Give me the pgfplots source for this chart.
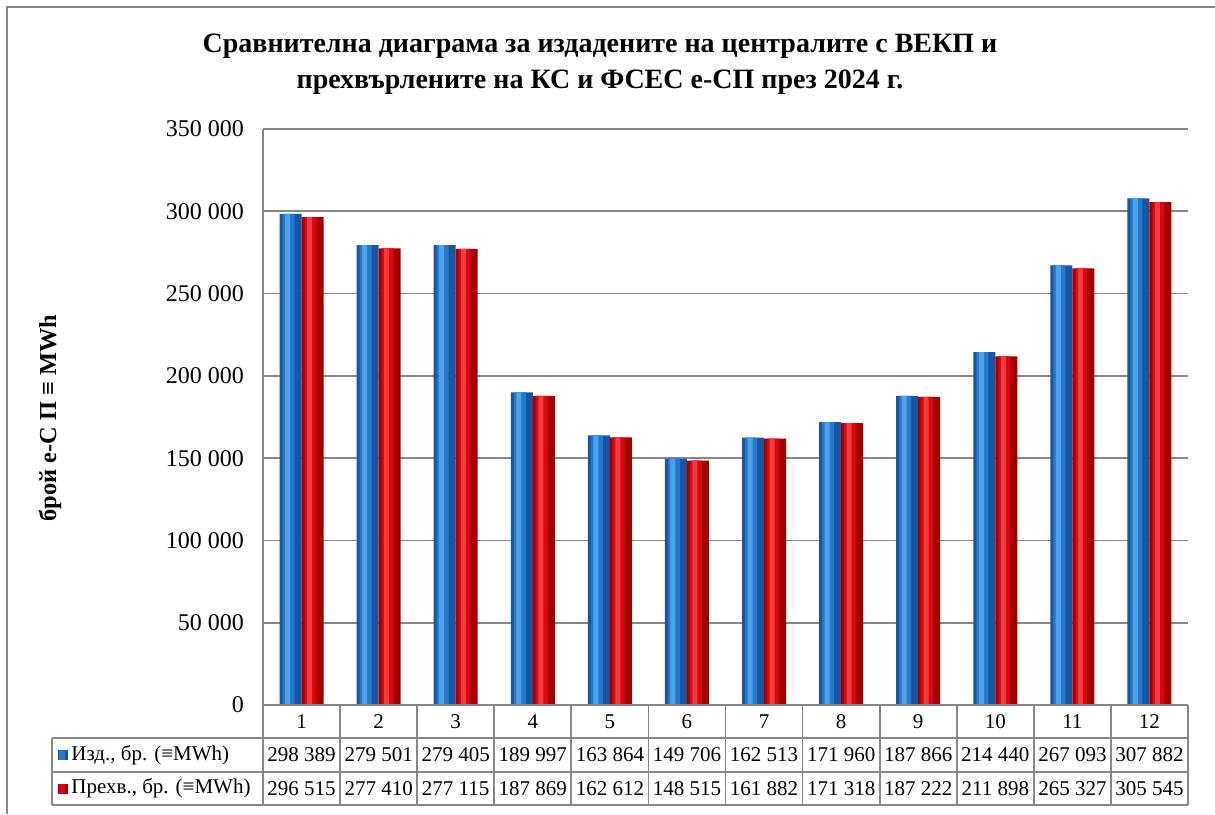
\documentclass[border=0pt]{standalone}
\usepackage{fontspec}
\setmainfont{Liberation Serif}
\usepackage{pgfplots}
\usepackage{pgfplotstable}
\pgfplotsset{compat=1.18}
\definecolor{bdark}{RGB}{25,85,165}
\definecolor{bmid}{RGB}{35,122,205}
\definecolor{blight}{RGB}{80,162,232}
\definecolor{rdark}{RGB}{165,0,0}
\definecolor{rmid}{RGB}{215,8,14}
\definecolor{rlight}{RGB}{240,60,60}
\definecolor{tgray}{RGB}{135,135,135}
\pgfplotstableread{
m izd prehv
1 298389 296515
2 279501 277410
3 279405 277115
4 189997 187869
5 163864 162612
6 149706 148515
7 162513 161882
8 171960 171318
9 187866 187222
10 214440 211898
11 267093 265327
12 307882 305545
}\data
\pgfkeys{/pgf/number format/.cd, fixed, precision=0, 1000 sep={\ }, assume math mode=true}
\begin{document}
\begin{tikzpicture}
\begin{scope}[x=0.5pt,y=-0.5pt]
\path[use as bounding box] (0,0) rectangle (1215,814);
\draw[tgray, line width=1.4pt] (7,814) -- (7,7) -- (1215,7);
\node[font=\bfseries\fontsize{14}{18}\selectfont, align=center] at (600,64) {Сравнителна диаграма за издадените на централите с ВЕКП и\\прехвърлените на КС и ФСЕС е-СП през 2024 г.};
\node[rotate=90, font=\bfseries\fontsize{12.2}{13}\selectfont] at (50,418) {брой е-С П ≡ MWh};
\end{scope}
\begin{axis}[at={(131.5pt,-352.5pt)}, anchor=south west, scale only axis,
  width=462.5pt, height=288pt,
  xmin=0.5, xmax=12.5, ymin=0, ymax=350000, enlargelimits=false,
  ytick={0,50000,...,350000}, xtick=\empty,
  ymajorgrids, grid style={tgray, line width=0.8pt},
  axis x line=none, axis y line*=left,
  y axis line style={tgray, line width=0.9pt, -},
  major tick length=0pt, scaled y ticks=false,
  yticklabel style={font=\fontsize{12}{13}\selectfont, xshift=-6pt},
  /pgf/number format/1000 sep={\ }, /pgf/number format/assume math mode=true]
\addplot[ybar, bar width=11pt, bar shift=-5.5pt, draw=none, fill=bdark] table[x=m, y=izd]{\data};
\addplot[ybar, bar width=6pt, bar shift=-6.5pt, draw=none, fill=bmid] table[x=m, y=izd]{\data};
\addplot[ybar, bar width=2.5pt, bar shift=-7pt, draw=none, fill=blight] table[x=m, y=izd]{\data};
\addplot[ybar, bar width=11pt, bar shift=5.5pt, draw=none, fill=rdark] table[x=m, y=prehv]{\data};
\addplot[ybar, bar width=6pt, bar shift=4.5pt, draw=none, fill=rmid] table[x=m, y=prehv]{\data};
\addplot[ybar, bar width=2.5pt, bar shift=4pt, draw=none, fill=rlight] table[x=m, y=prehv]{\data};
\end{axis}
\begin{scope}[x=0.5pt,y=-0.5pt, every node/.style={font=\fontsize{10.5}{12}\selectfont}]
\draw[tgray, line width=0.9pt] (263,705) -- (1188,705);
\draw[tgray, line width=0.9pt] (52,738) -- (1188,738);
\draw[tgray, line width=0.9pt] (52,772) -- (1188,772);
\draw[tgray, line width=0.9pt] (52,805) -- (1188,805);
\draw[tgray, line width=0.9pt] (52,738) -- (52,805);
\foreach \k in {0,...,12}{
  \draw[tgray, line width=0.9pt] ({263+77.083*\k},705) -- ({263+77.083*\k},805);
}
\foreach \i in {0,...,11}{
  \pgfmathsetmacro\cx{263+77.083*(\i+0.5)}
  \node at (\cx,721.5) {\the\numexpr\i+1\relax};
  \pgfplotstablegetelem{\i}{izd}\of\data
  \node at (\cx,755) {\pgfmathprintnumber{\pgfplotsretval}};
  \pgfplotstablegetelem{\i}{prehv}\of\data
  \node at (\cx,788.5) {\pgfmathprintnumber{\pgfplotsretval}};
}
\fill[bdark] (58,750) rectangle (68,760);
\fill[bmid] (59,750) rectangle (65,760);
\fill[rdark] (58,783.5) rectangle (68,793.5);
\fill[rmid] (59,783.5) rectangle (65,793.5);
\node[anchor=west, inner sep=1pt] at (69,755) {Изд., бр. (≡MWh)};
\node[anchor=west, inner sep=1pt] at (69,788.5) {Прехв., бр. (≡MWh)};
\end{scope}
\end{tikzpicture}
\end{document}
